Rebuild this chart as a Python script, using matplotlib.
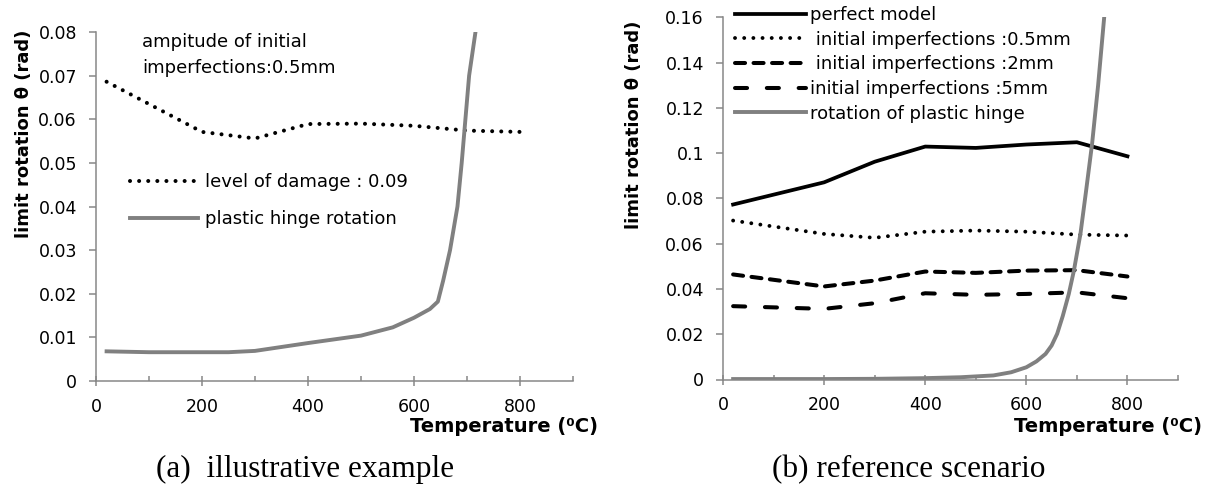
import numpy as np
import matplotlib
matplotlib.use('Agg')
from matplotlib import pyplot as plt
from matplotlib.ticker import MultipleLocator, FuncFormatter

W, H = 1212, 484

# --- data ---
temps = [20, 200, 300, 400, 500, 600, 700, 800]

# (a) illustrative example
damage_009 = [0.0686, 0.0571, 0.0556, 0.0589, 0.0590, 0.0585, 0.0574, 0.0571]
hinge_a_t = [20, 100, 200, 250, 300, 400, 500, 560, 600, 630, 645, 655, 668, 682, 690, 697, 704, 716]
hinge_a = [0.0068, 0.0066, 0.0066, 0.0066, 0.0069, 0.0087, 0.0104, 0.0123, 0.0145, 0.0165,
           0.0182, 0.023, 0.030, 0.040, 0.050, 0.060, 0.070, 0.080]

# (b) reference scenario
perfect = [0.0773, 0.0871, 0.0962, 0.1029, 0.1023, 0.1038, 0.1048, 0.0986]
imp_05 = [0.0702, 0.0643, 0.0626, 0.0653, 0.0658, 0.0653, 0.0640, 0.0636]
imp_2 = [0.0464, 0.0411, 0.0437, 0.0477, 0.0471, 0.0481, 0.0483, 0.0455]
imp_5 = [0.0324, 0.0312, 0.0337, 0.0381, 0.0374, 0.0378, 0.0385, 0.0359]
hinge_b_t = [20, 200, 300, 400, 470, 535, 570, 600, 620, 638, 650, 661, 672, 684, 694,
             707, 718, 730, 742, 754]
hinge_b = [0.0002, 0.0002, 0.0003, 0.0006, 0.0010, 0.0018, 0.0032, 0.0054, 0.0080, 0.0113,
           0.0150, 0.0202, 0.0280, 0.0378, 0.0480, 0.0643, 0.0830, 0.1040, 0.1300, 0.1600]

grey = '#878787'
hinge_col = '#808080'


def fx(px):
    return px / W


def fy(py):
    return 1 - py / H


def style_axis(ax, ymax, ystep):
    ax.set_xlim(0, 900)
    ax.set_ylim(0, ymax)
    for s in ['top', 'right']:
        ax.spines[s].set_visible(False)
    for s in ['left', 'bottom']:
        ax.spines[s].set_color(grey)
        ax.spines[s].set_linewidth(1.1)
    ax.xaxis.set_minor_locator(MultipleLocator(100))
    ax.yaxis.set_major_locator(MultipleLocator(ystep))
    ax.yaxis.set_major_formatter(FuncFormatter(lambda v, p: '%g' % round(v, 4)))
    ax.set_xticks(np.arange(0, 801, 200))
    ax.tick_params(axis='x', which='major', direction='inout', length=7.2, width=1.1,
                   color=grey, pad=8.5, labelsize=12.5)
    ax.tick_params(axis='x', which='minor', direction='in', length=3.6, width=1.1, color=grey)
    ax.tick_params(axis='y', which='major', direction='out', length=5, width=1.1,
                   color=grey, pad=8.7, labelsize=12.5)
    ax.patch.set_alpha(0)


fig = plt.figure(figsize=(W / 100, H / 100), dpi=100)

# ---------------- (a) ----------------
axa = fig.add_axes([fx(96), fy(381), 477 / W, 349 / H])
style_axis(axa, 0.08, 0.01)
la1, = axa.plot(temps, damage_009, color='black', lw=2.9, linestyle=(0, (0.01, 2.25)),
                dash_capstyle='round', label='level of damage : 0.09')
la2, = axa.plot(hinge_a_t, hinge_a, color=hinge_col, lw=2.8, label='plastic hinge rotation',
                solid_joinstyle='round')
fig.legend(handles=[la1, la2], loc='upper left', bbox_to_anchor=(fx(130), fy(173)),
           frameon=False, fontsize=13, handlelength=3.75, handletextpad=0.4,
           labelspacing=1.07, borderpad=0, borderaxespad=0)
fig.text(fx(142), fy(33), 'ampitude of initial\nimperfections:0.5mm', fontsize=13,
         ha='left', va='top', linespacing=1.55)

fig.text(fx(24), fy(134), 'limit rotation θ (rad)', rotation=90, ha='center', va='center',
         fontsize=13, fontweight='bold')
fig.text(fx(598), fy(426), 'Temperature (⁰C)', ha='right', va='center',
         fontsize=14, fontweight='bold')
fig.text(fx(305), fy(477), '(a)  illustrative example', ha='center', va='baseline',
         fontsize=22.5, family='Liberation Serif')

# ---------------- (b) ----------------
axb = fig.add_axes([fx(723), fy(379.5), 455 / W, 362.2 / H])
style_axis(axb, 0.16, 0.02)
lb1, = axb.plot(temps, perfect, color='black', lw=2.7, label='perfect model')
lb2, = axb.plot(temps, imp_05, color='black', lw=2.8, linestyle=(0, (0.01, 2.35)),
                dash_capstyle='round', label=' initial imperfections :0.5mm')
lb3, = axb.plot(temps, imp_2, color='black', lw=2.9, linestyle=(0, (2.5, 2.1)),
                dash_capstyle='round', label=' initial imperfections :2mm')
lb4, = axb.plot(temps, imp_5, color='black', lw=2.9, linestyle=(0, (3.0, 4.9)),
                dash_capstyle='round', label='initial imperfections :5mm')
lb5, = axb.plot(hinge_b_t, hinge_b, color=hinge_col, lw=2.8, label='rotation of plastic hinge',
                solid_joinstyle='round')
fig.legend(handles=[lb1, lb2, lb3, lb4, lb5], loc='upper left',
           bbox_to_anchor=(fx(735), fy(6)), frameon=False, fontsize=13,
           handlelength=3.95, handletextpad=0.2, labelspacing=0.37,
           borderpad=0, borderaxespad=0)

fig.text(fx(634), fy(125), 'limit rotation θ (rad)', rotation=90, ha='center', va='center',
         fontsize=13, fontweight='bold')
fig.text(fx(1202), fy(426), 'Temperature (⁰C)', ha='right', va='center',
         fontsize=14, fontweight='bold')
fig.text(fx(909), fy(477), '(b) reference scenario', ha='center', va='baseline',
         fontsize=22.5, family='Liberation Serif')

fig.savefig('out.png', dpi=100)
